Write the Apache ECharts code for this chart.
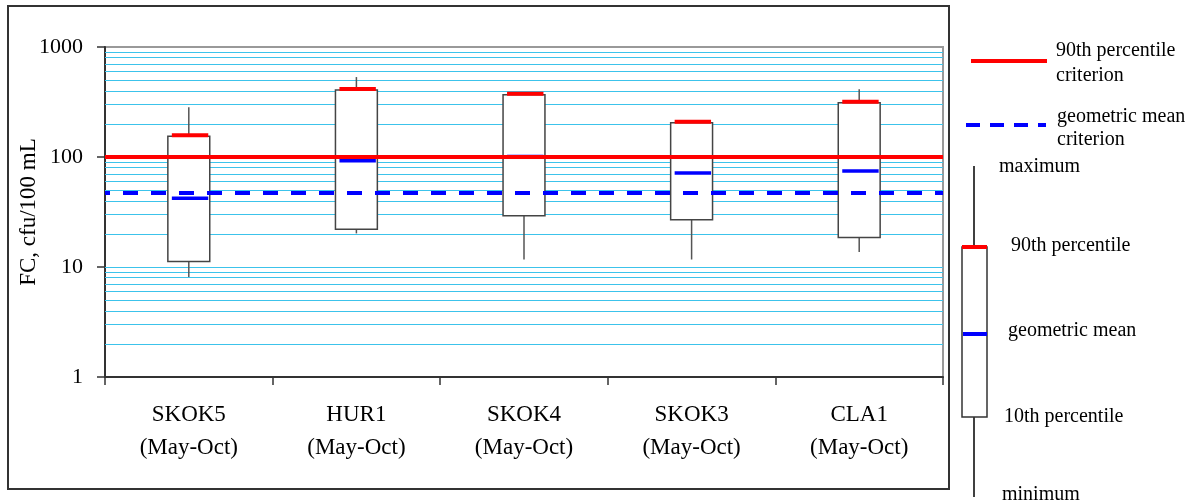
<!DOCTYPE html>
<html>
<head>
<meta charset="utf-8">
<script src="https://cdn.jsdelivr.net/npm/echarts@6/dist/echarts.min.js"></script>
<style>
html,body{margin:0;padding:0;background:#fff;}
#chart{width:1192px;height:501px;}
</style>
</head>
<body>
<div id="chart"></div>
<script>
// ---- data ----
var sites = ['SKOK5', 'HUR1', 'SKOK4', 'SKOK3', 'CLA1'];
var period = '(May-Oct)';
var minimum = [8.1, 20.2, 11.7, 11.7, 13.7];
var p10 = [11.2, 22.0, 29.3, 26.9, 18.5];
var geoMean = [42.1, 92.5, 101, 71.6, 74.6];
var p90 = [154, 406, 369, 205, 312];
var maximum = [283, 533, 372, 207, 412];
var criterion90 = 100;
var criterionGM = 47;
var yTicks = [1, 10, 100, 1000];
var gridValues = [2,3,4,5,6,7,8,9,10,20,30,40,50,60,70,80,90,100,200,300,400,500,600,700,800,900];

var SERIF = "'Liberation Serif','Times New Roman',serif";

var categories = sites.map(function (s) { return s + '\n' + period; });
var boxData = sites.map(function (s, i) {
  return [i, minimum[i], p10[i], geoMean[i], p90[i], maximum[i]];
});

function renderBox(params, api) {
  var i = api.value(0);
  var top = api.coord([i, api.value(4)]);
  var cx = top[0];
  var y90 = top[1];
  var yMin = api.coord([i, api.value(1)])[1];
  var y10 = api.coord([i, api.value(2)])[1];
  var yGm = api.coord([i, api.value(3)])[1];
  var yMax = api.coord([i, api.value(5)])[1];
  var bw = api.size([1, 1])[0] * 0.25;
  var x0 = cx - bw / 2, x1 = cx + bw / 2;
  var lineCol = '#555';
  return {
    type: 'group',
    children: [
      { type: 'line', shape: { x1: cx, y1: yMax, x2: cx, y2: y90 }, style: { stroke: lineCol, lineWidth: 1.5 } },
      { type: 'line', shape: { x1: cx, y1: y10, x2: cx, y2: yMin }, style: { stroke: lineCol, lineWidth: 1.5 } },
      { type: 'rect', shape: { x: x0, y: y90, width: bw, height: y10 - y90 }, style: { fill: '#fff', stroke: '#444', lineWidth: 1.5 } },
      { type: 'line', shape: { x1: x0 + 4, y1: yGm, x2: x1 - 1.5, y2: yGm }, style: { stroke: '#0000ff', lineWidth: 3.5 } },
      { type: 'line', shape: { x1: x0 + 4, y1: y90 - 1, x2: x1 - 1.5, y2: y90 - 1 }, style: { stroke: '#ff0000', lineWidth: 4 } }
    ]
  };
}

var chart = echarts.init(document.getElementById('chart'), null, { renderer: 'canvas' });

var legendText = function (x, y, txt) {
  return { type: 'text', left: x, top: y, style: { text: txt, font: '20px ' + SERIF, fill: '#000', textVerticalAlign: 'top' } };
};

chart.setOption({
  animation: false,
  backgroundColor: '#fff',
  grid: { left: 105, top: 47, width: 838, height: 330, show: true, borderColor: '#999', borderWidth: 2, backgroundColor: '#fff', outerBoundsMode: 'none', containLabel: false },
  xAxis: {
    type: 'category',
    data: categories,
    boundaryGap: true,
    axisLine: { lineStyle: { color: '#333', width: 2 } },
    axisTick: { show: true, length: 8, lineStyle: { color: '#333', width: 1.5 } },
    axisLabel: { margin: 21, fontFamily: SERIF, fontSize: 23, color: '#000', lineHeight: 33, interval: 0 },
    splitLine: { show: false }
  },
  yAxis: {
    type: 'log',
    logBase: 10,
    min: 1,
    max: 1000,
    name: 'FC, cfu/100 mL',
    nameLocation: 'middle',
    nameRotate: 90,
    nameGap: 65,
    nameMoveOverlap: false,
    nameTextStyle: { fontFamily: SERIF, fontSize: 23, color: '#000' },
    axisLine: { show: true, lineStyle: { color: '#333', width: 2 } },
    axisTick: { show: true, length: 8, lineStyle: { color: '#333', width: 1.5 } },
    axisLabel: {
      margin: 22, fontFamily: SERIF, fontSize: 22, color: '#000',
      formatter: function (v) { return yTicks.indexOf(Math.round(v)) >= 0 ? String(Math.round(v)) : ''; }
    },
    splitLine: { show: false }
  },
  series: [
    {
      type: 'line', data: [], silent: true,
      markLine: {
        silent: true, z: 1, symbol: ['none', 'none'], label: { show: false },
        lineStyle: { color: '#3cc3eb', width: 1, type: 'solid' },
        data: gridValues.map(function (v) { return { yAxis: v }; })
      }
    },
    {
      type: 'custom',
      z: 3,
      renderItem: renderBox,
      encode: { x: 0, y: [1, 2, 3, 4, 5] },
      data: boxData,
      silent: true
    },
    {
      type: 'line', data: [], silent: true,
      markLine: {
        silent: true, z: 10, symbol: ['none', 'none'], label: { show: false },
        data: [
          { yAxis: criterionGM, lineStyle: { color: '#0000ff', width: 4, type: [15, 13], dashOffset: 10 } },
          { yAxis: criterion90, lineStyle: { color: '#ff0000', width: 4, type: 'solid' } }
        ]
      }
    }
  ],
  graphic: [
    { type: 'rect', shape: { x: 8, y: 6, width: 941, height: 483 }, style: { fill: 'none', stroke: '#333', lineWidth: 2 }, silent: true },
    // legend: criteria
    { type: 'line', shape: { x1: 971, y1: 61, x2: 1047, y2: 61 }, style: { stroke: '#ff0000', lineWidth: 4 } },
    legendText(1056, 41, '90th percentile'),
    legendText(1056, 66, 'criterion'),
    { type: 'line', shape: { x1: 966, y1: 125, x2: 1046, y2: 125 }, style: { stroke: '#0000ff', lineWidth: 4, lineDash: [14, 10] } },
    legendText(1057, 107, 'geometric mean'),
    legendText(1057, 130, 'criterion'),
    // legend: box explanation
    { type: 'line', shape: { x1: 974, y1: 166, x2: 974, y2: 497 }, style: { stroke: '#000', lineWidth: 1.5 } },
    { type: 'rect', shape: { x: 962, y: 247, width: 25, height: 170 }, style: { fill: '#fff', stroke: '#333', lineWidth: 1.5 } },
    { type: 'line', shape: { x1: 962, y1: 247, x2: 987, y2: 247 }, style: { stroke: '#ff0000', lineWidth: 4 } },
    { type: 'line', shape: { x1: 963, y1: 334, x2: 987, y2: 334 }, style: { stroke: '#0000ff', lineWidth: 4 } },
    legendText(999, 157, 'maximum'),
    legendText(1011, 236, '90th percentile'),
    legendText(1008, 321, 'geometric mean'),
    legendText(1004, 407, '10th percentile'),
    legendText(1002, 485, 'minimum')
  ]
});
</script>
</body>
</html>
